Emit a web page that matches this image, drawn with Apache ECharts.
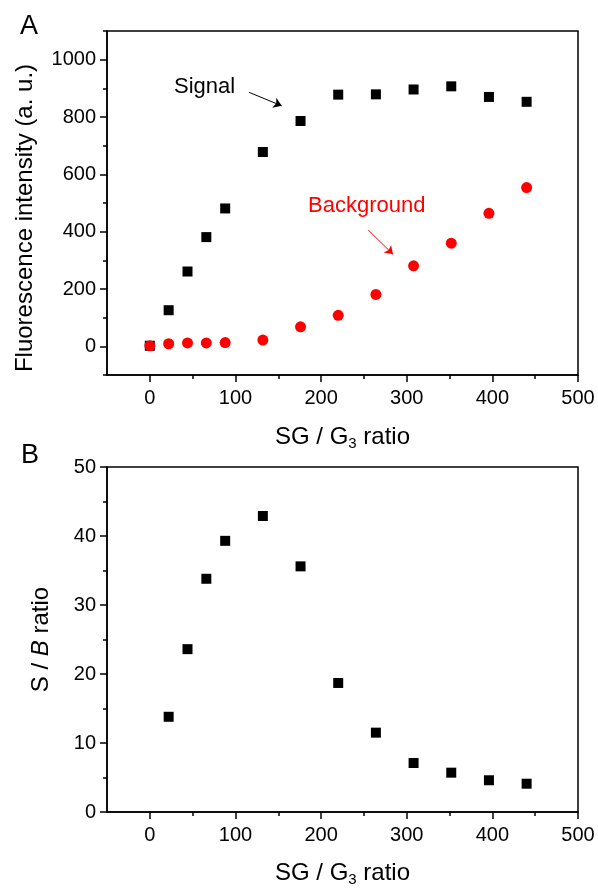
<!DOCTYPE html>
<html>
<head>
<meta charset="utf-8">
<script src="https://cdn.jsdelivr.net/npm/echarts@6/dist/echarts.min.js"></script>
<style>
  html, body { margin: 0; padding: 0; background: #fff; }
  #chart { width: 598px; height: 888px; }
</style>
</head>
<body>
<div id="chart"></div>
<script>
// SG / G3 ratio for each measurement
const ratio = [0, 22, 44, 66, 88, 132, 176, 220, 264, 308, 352, 396, 440];
const signal = [2, 126, 261, 381, 481, 678, 786, 878, 879, 896, 907, 870, 853];
const background = [2, 9, 12, 12, 13, 22, 68, 108, 181, 281, 360, 464, 554];
// S/B has no point at ratio 0
const sbX = [22, 44, 66, 88, 132, 176, 220, 264, 308, 352, 396, 440];
const sbRatio = [13.8, 23.6, 33.8, 39.3, 42.9, 35.6, 18.7, 11.5, 7.1, 5.7, 4.6, 4.1];

const xLabels = [0, 100, 200, 300, 400, 500];
const xMinor = [50, 150, 250, 350, 450];
const yLabelsA = [0, 200, 400, 600, 800, 1000];
const yMinorA = [-100, 100, 300, 500, 700, 900, 1100];
const yLabelsB = [0, 10, 20, 30, 40, 50];
const yMinorB = [5, 15, 25, 35, 45];

// annotation arrows, in data units of panel A
const signalArrow = [[116, 886], [154, 839]];
const bgArrow = [[255, 406], [284, 321]];

const FONT = 'Liberation Sans, Arial, sans-serif';
const chart = echarts.init(document.getElementById('chart'));

function tickLabel(values, margin) {
  return {
    customValues: values, color: '#000', fontSize: 20, fontFamily: FONT, margin: margin,
    formatter: v => String(v)
  };
}

function mainAxis(grid, min, max, labels, extra) {
  return Object.assign({
    type: 'value', gridIndex: grid, min: min, max: max,
    axisLine: { show: true, onZero: false, lineStyle: { color: '#000', width: 1.5 } },
    axisTick: { show: true, customValues: labels, length: 7, inside: false, lineStyle: { color: '#000', width: 1.5 } },
    splitLine: { show: false }
  }, extra);
}
function minorAxis(grid, min, max, ticks, pos) {
  return {
    type: 'value', gridIndex: grid, min: min, max: max, position: pos,
    axisLine: { show: false, onZero: false },
    axisTick: { show: true, customValues: ticks, length: 4, lineStyle: { color: '#000', width: 1.5 } },
    axisLabel: { show: false },
    splitLine: { show: false }
  };
}

const xName = '{t|SG / G}{s|3}{t| ratio}';
const xNameStyle = {
  rich: {
    t: { fontSize: 24, fontFamily: FONT, color: '#000', lineHeight: 28 },
    s: { fontSize: 15, fontFamily: FONT, color: '#000', lineHeight: 15, verticalAlign: 'bottom' }
  }
};

const option = {
  animation: false,
  backgroundColor: '#fff',
  grid: [
    { left: 107, top: 31, width: 471, height: 344, show: true, borderColor: '#000', borderWidth: 1.5 },
    { left: 107, top: 467, width: 471, height: 345, show: true, borderColor: '#000', borderWidth: 1.5 }
  ],
  xAxis: [
    mainAxis(0, -50, 500, xLabels, {
      position: 'bottom', axisLabel: tickLabel(xLabels, 13),
      name: xName, nameLocation: 'middle', nameGap: 48, nameTextStyle: xNameStyle
    }),
    minorAxis(0, -50, 500, xMinor, 'bottom'),
    mainAxis(1, -50, 500, xLabels, {
      position: 'bottom', axisLabel: tickLabel(xLabels, 13),
      name: xName, nameLocation: 'middle', nameGap: 47, nameTextStyle: xNameStyle
    }),
    minorAxis(1, -50, 500, xMinor, 'bottom')
  ],
  yAxis: [
    mainAxis(0, -100, 1100, yLabelsA, {
      position: 'left', axisLabel: tickLabel(yLabelsA, 11),
      name: 'Fluorescence intensity (a. u.)', nameLocation: 'middle', nameGap: 70,
      nameTextStyle: { fontSize: 24, fontFamily: FONT, color: '#000', padding: [0, 30, 0, 0] }
    }),
    minorAxis(0, -100, 1100, yMinorA, 'left'),
    mainAxis(1, 0, 50, yLabelsB, {
      position: 'left', axisLabel: tickLabel(yLabelsB, 11),
      name: '{t|S / }{i|B}{t| ratio}', nameLocation: 'middle', nameGap: 54,
      nameTextStyle: {
        rich: {
          t: { fontSize: 24, fontFamily: FONT, color: '#000' },
          i: { fontSize: 24, fontFamily: FONT, color: '#000', fontStyle: 'italic' }
        }
      }
    }),
    minorAxis(1, 0, 50, yMinorB, 'left')
  ],
  graphic: [
    { type: 'text', left: 20, top: 13, style: { text: 'A', font: '27px ' + FONT, fill: '#000' } },
    { type: 'text', left: 21, top: 442, style: { text: 'B', font: '27px ' + FONT, fill: '#000' } },
    { type: 'text', left: 174, top: 76, style: { text: 'Signal', font: '22px ' + FONT, fill: '#000' } },
    { type: 'text', left: 308, top: 195, style: { text: 'Background', font: '22px ' + FONT, fill: '#ff0000' } }
  ],
  series: [
    {
      name: 'Signal', type: 'scatter', xAxisIndex: 0, yAxisIndex: 0,
      symbol: 'rect', symbolSize: 10, itemStyle: { color: '#000', opacity: 1 },
      data: ratio.map((x, i) => [x, signal[i]]),
      markLine: {
        silent: true, symbol: ['none', 'arrow'], symbolSize: 8,
        label: { show: false },
        lineStyle: { color: '#000', width: 1, type: 'solid' },
        data: [[{ coord: signalArrow[0] }, { coord: signalArrow[1] }]]
      }
    },
    {
      name: 'Background', type: 'scatter', xAxisIndex: 0, yAxisIndex: 0,
      symbol: 'circle', symbolSize: 11, itemStyle: { color: '#ff0000', opacity: 1 },
      data: ratio.map((x, i) => [x, background[i]]),
      markLine: {
        silent: true, symbol: ['none', 'arrow'], symbolSize: 8,
        label: { show: false },
        lineStyle: { color: '#ff0000', width: 1, type: 'solid' },
        data: [[{ coord: bgArrow[0] }, { coord: bgArrow[1] }]]
      }
    },
    {
      name: 'S/B', type: 'scatter', xAxisIndex: 2, yAxisIndex: 2,
      symbol: 'rect', symbolSize: 10, itemStyle: { color: '#000', opacity: 1 },
      data: sbX.map((x, i) => [x, sbRatio[i]])
    }
  ]
};

chart.setOption(option);
</script>
</body>
</html>
